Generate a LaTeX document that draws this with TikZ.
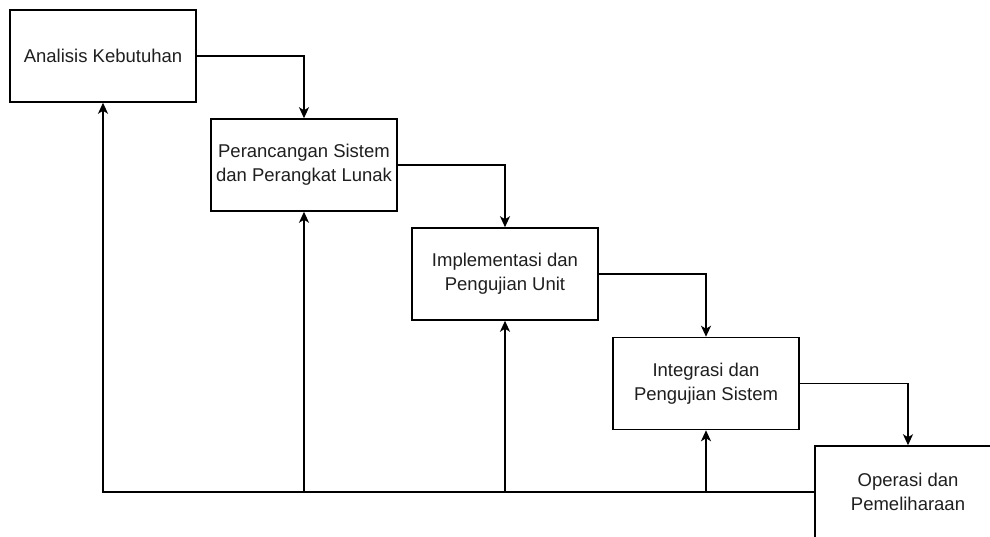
\documentclass[tikz,border=0pt]{standalone}
\usepackage{fontspec}
\setmainfont{Liberation Sans}
\usetikzlibrary{arrows.meta}
\begin{document}
\begin{tikzpicture}[x=1pt,y=-1pt,
  stagebox/.style={draw=black,line width=1.5pt,fill=white,minimum width=186pt,minimum height=92pt,
    inner sep=0pt,align=center,font=\fontsize{18.5}{24}\selectfont,text=black!88},
  arr/.style={draw=black,line width=1.5pt,-{Stealth[length=11pt,width=10pt,inset=3pt]}}]
\useasboundingbox (0,0) rectangle (990,537);
\clip (0,0) rectangle (990,537);
\node[stagebox] (b1) at (103,56) {Analisis Kebutuhan};
\node[stagebox] (b2) at (304,165) {Perancangan Sistem\\dan Perangkat Lunak};
\node[stagebox] (b3) at (505,274) {Implementasi dan\\Pengujian Unit};
\node[stagebox] (b4) at (706,383.5) {Integrasi dan\\Pengujian Sistem};
\node[stagebox] (b5) at (908,492) {Operasi dan\\Pemeliharaan};
\draw[arr] (b1.east) -| (b2.north);
\draw[arr] (b2.east) -| (b3.north);
\draw[arr] (b3.east) -| (b4.north);
\draw[arr] (b4.east) -| (b5.north);
\draw[arr] (b5.west) -| (b1.south);
\draw[arr] (b2.south |- b5.west) -- (b2.south);
\draw[arr] (b3.south |- b5.west) -- (b3.south);
\draw[arr] (b4.south |- b5.west) -- (b4.south);
\end{tikzpicture}
\end{document}
